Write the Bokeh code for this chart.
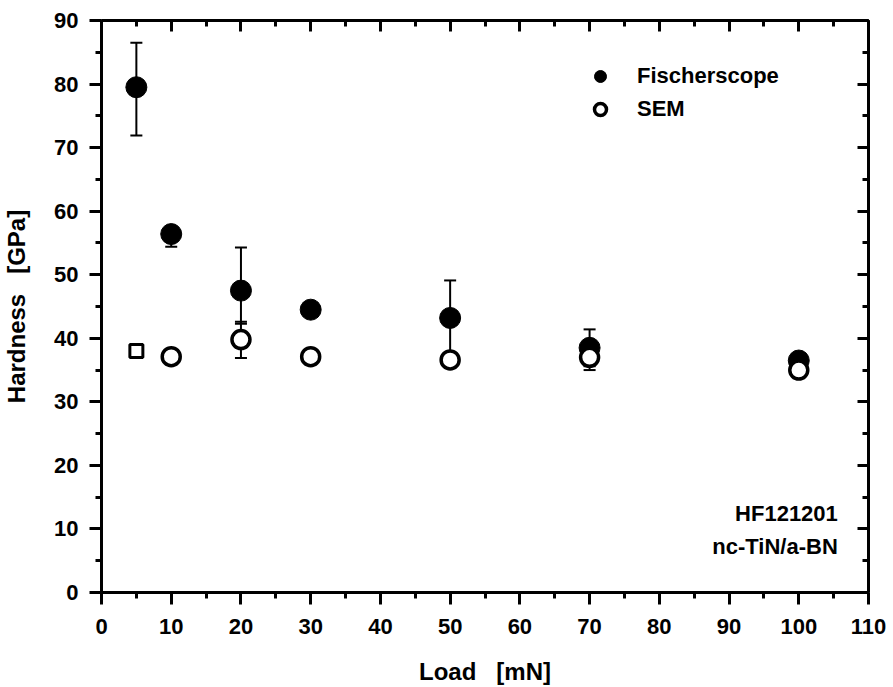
from bokeh.plotting import figure
from bokeh.models import (Range1d, LinearAxis, SingleIntervalTicker, Whisker, TeeHead,
                          ColumnDataSource, Legend, LegendItem, Label, CustomJSTickFormatter)
from bokeh.embed import file_html
from bokeh.resources import INLINE

# ---- data ----
fischer_load = [5, 10, 20, 30, 50, 70, 100]
fischer_hard = [79.5, 56.4, 47.5, 44.5, 43.2, 38.5, 36.5]
fischer_low = [71.9, 54.4, 42.3, 43.6, 36.5, 35.6, 36.0]
fischer_high = [86.5, 57.6, 54.3, 45.3, 49.1, 41.4, 37.0]

sem_load = [10, 20, 30, 50, 70, 100]
sem_hard = [37.1, 39.8, 37.1, 36.6, 37.0, 35.0]
sem_low = [36.6, 36.9, 36.6, 36.0, 35.0, 34.5]
sem_high = [37.6, 42.6, 37.6, 37.2, 38.5, 35.5]

square_load = [5]
square_hard = [38.0]

x_label = "Load\u00a0\u00a0\u00a0[mN]"
y_label = "Hardness\u00a0\u00a0\u00a0[GPa]"
legend_labels = ["Fischerscope", "SEM"]
note_lines = ["HF121201", "nc-TiN/a-BN"]

FONT = "Liberation Sans"

p = figure(width=893, height=687, output_backend="svg", toolbar_location=None,
           x_range=Range1d(0, 110), y_range=Range1d(0, 90),
           min_border_left=101, min_border_right=25, min_border_top=20, min_border_bottom=95,
           x_axis_location=None, y_axis_location=None)
p.grid.visible = False
p.outline_line_color = None
p.background_fill_color = "white"
p.border_fill_color = "white"

def mk_axis(ticks_out, labels):
    ax = LinearAxis(ticker=SingleIntervalTicker(interval=10, num_minor_ticks=2))
    ax.axis_line_width = 3
    ax.axis_line_color = "black"
    ax.major_tick_line_width = 3
    ax.minor_tick_line_width = 3
    if ticks_out:
        ax.major_tick_out = 12
        ax.major_tick_in = 0
        ax.minor_tick_out = 6
        ax.minor_tick_in = 0
    else:
        ax.major_tick_out = 0
        ax.major_tick_in = 11
        ax.minor_tick_out = 0
        ax.minor_tick_in = 6
    if labels:
        ax.major_label_text_font = FONT
        ax.major_label_text_font_style = "bold"
        ax.major_label_text_font_size = "22px"
        ax.major_label_text_color = "black"
    else:
        ax.formatter = CustomJSTickFormatter(code="return ''")
        ax.major_label_standoff = 0
    return ax

left = mk_axis(True, True)
left.axis_label = y_label
left.axis_label_text_font = FONT
left.axis_label_text_font_style = "bold"
left.axis_label_text_font_size = "24px"
left.axis_label_text_color = "black"
left.major_label_standoff = 11
left.axis_label_standoff = 21
p.add_layout(left, "left")

bottom = mk_axis(True, True)
bottom.axis_label = x_label
bottom.axis_label_text_font = FONT
bottom.axis_label_text_font_style = "bold"
bottom.axis_label_text_font_size = "24px"
bottom.axis_label_text_color = "black"
bottom.major_label_standoff = 14
bottom.axis_label_standoff = 21
p.add_layout(bottom, "below")

top = mk_axis(False, False)
p.add_layout(top, "above")
right = mk_axis(False, False)
p.add_layout(right, "right")

# error bars
fs = ColumnDataSource(dict(x=fischer_load, y=fischer_hard, lo=fischer_low, hi=fischer_high))
ss = ColumnDataSource(dict(x=sem_load, y=sem_hard, lo=sem_low, hi=sem_high))
for src in (fs, ss):
    w = Whisker(source=src, base="x", lower="lo", upper="hi", dimension="height",
                line_color="black", line_width=2,
                upper_head=TeeHead(size=12, line_width=2, line_color="black"),
                lower_head=TeeHead(size=12, line_width=2, line_color="black"))
    p.add_layout(w)

r_f = p.scatter("x", "y", source=fs, marker="circle", size=21,
                fill_color="black", line_color="black")
r_s = p.scatter("x", "y", source=ss, marker="circle", size=18,
                fill_color="white", line_color="black", line_width=3.5)
p.scatter(square_load, square_hard, marker="square", size=13,
          fill_color="white", line_color="black", line_width=3)

legend = Legend(items=[LegendItem(label=legend_labels[0], renderers=[r_f]),
                       LegendItem(label=legend_labels[1], renderers=[r_s])],
                location=(484, 468), orientation="vertical",
                glyph_width=30, glyph_height=30, spacing=3, padding=0, margin=0,
                label_standoff=22, label_text_font=FONT, label_text_font_style="bold",
                label_text_font_size="22px", label_text_color="black",
                border_line_color=None, background_fill_alpha=0)
p.add_layout(legend)

for txt, yy in zip(note_lines, [12.4, 7.2]):
    p.add_layout(Label(x=105.6, y=yy, text=txt, text_align="right", text_baseline="middle",
                       text_font=FONT, text_font_style="bold", text_font_size="22px",
                       text_color="black"))

html = file_html(p, INLINE)
open("out.html", "w").write(html)
